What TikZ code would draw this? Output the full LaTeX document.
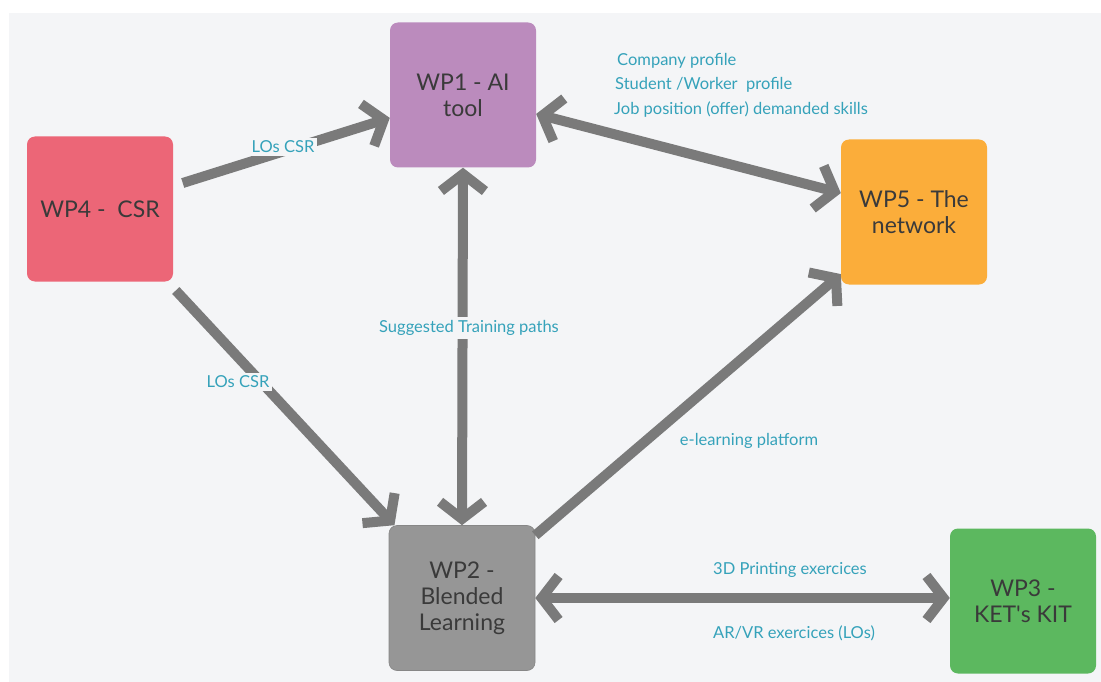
\documentclass[tikz,border=0pt]{standalone}
\usepackage{fontspec}
\setmainfont{Lato}
\usetikzlibrary{arrows.meta}
\definecolor{bg}{HTML}{F4F5F7}
\definecolor{txt}{HTML}{3A3A3A}
\definecolor{lab}{HTML}{35A2BA}
\definecolor{arr}{HTML}{7A7A7A}
\definecolor{cpurple}{HTML}{BB8BBD}
\definecolor{cred}{HTML}{EC6677}
\definecolor{corange}{HTML}{FBAD3A}
\definecolor{cgray}{HTML}{969696}
\definecolor{cgreen}{HTML}{5CB85F}
\begin{document}
\begin{tikzpicture}[x=1pt,y=-1pt,
  wp/.style={rounded corners=8pt, minimum width=146pt, minimum height=145pt, inner sep=0pt, align=center, text=txt, font=\fontsize{23}{26}\selectfont},
  lbl/.style={text=lab, font=\fontsize{16.5}{22}\selectfont, inner sep=3pt},
  conn/.style={draw=arr, line width=10pt},
  >={Straight Barb[length=17pt,width=44pt]}]
\useasboundingbox (0,0) rectangle (1101,682);
\fill[bg] (9,13) rectangle (1101,682);

\node[wp, fill=cpurple] (wp1) at (463,95) {WP1 - AI\\tool};
\node[wp, fill=cred] (wp4) at (100,209) {WP4 -\ \ CSR};
\node[wp, fill=corange] (wp5) at (914,212) {WP5 - The\\network};
\node[wp, fill=cgray, draw=cgray!90!black, line width=0.6pt] (wp2) at (462,598) {WP2 -\\Blended\\Learning};
\node[wp, fill=cgreen] (wp3) at (1023,601) {WP3 -\\KET\textquotesingle s KIT};

\draw[conn, ->, shorten <=10pt] (wp4) -- (wp1);
\draw[conn, <->] (wp1) -- (wp5);
\draw[conn, <->] (wp1.south) -- (wp2.north);
\draw[conn, ->, shorten <=12pt] (wp4) -- (wp2);
\draw[conn, ->] (wp2) -- (wp5);
\draw[conn, <->] (wp2.east) -- (wp2.east -| wp3.west);

\node[lbl, fill=bg] (l1) at (283,147) {LOs CSR};
\node[lbl, fill=bg] (l2) at (238,382) {LOs CSR};
\node[lbl, fill=bg] (l3) at (469,328) {Suggested Training paths};
\node[lbl] (l4) at (749,441) {e-learning platform};
\node[lbl] (l5) at (790,570) {3D Printing exercices};
\node[lbl] (l6) at (794,633) {AR/VR exercices (LOs)};
\node[lbl, anchor=west, inner sep=0pt] (l7) at (617,61) {Company profile};
\node[lbl, anchor=west, inner sep=0pt] (l8) at (615,85) {Student /Worker\ \ profile};
\node[lbl, anchor=west, inner sep=0pt] (l9) at (614,110) {Job position (offer) demanded skills};
\end{tikzpicture}
\end{document}
